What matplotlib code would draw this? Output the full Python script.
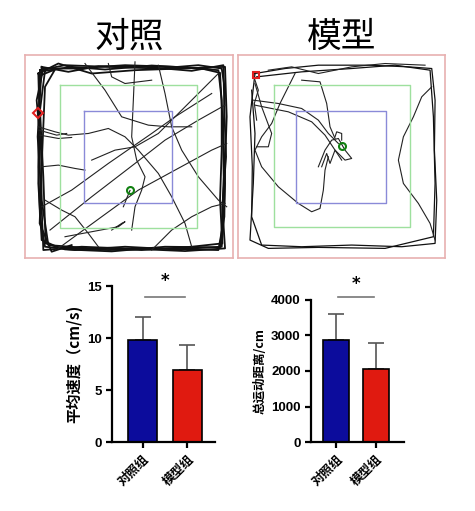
import numpy as np
import matplotlib
matplotlib.use('Agg')
import matplotlib.pyplot as plt

plt.rcParams['font.family'] = ['Noto Sans CJK SC', 'DejaVu Sans']

# ---- bar data ----
groups = ['对照组', '模型组']
speed_mean = [9.8, 6.9]
speed_err = [2.2, 2.4]
dist_mean = [2870, 2060]
dist_err = [730, 720]
bar_colors = ['#0c0c9c', '#e01a10']

# ---- arena outlines (trace-image units) ----
ctrl_green = [105, 105, 515, 535]
ctrl_blue = [178, 183, 442, 460]
model_green = [118, 105, 525, 530]
model_blue = [183, 183, 452, 458]
ctrl_start = (38, 188)
ctrl_end = (315, 421)
model_start = (62, 75)
model_end = (322, 287)

# ---- trajectories ----
ctrl_border = [
    [(45,60),(120,45),(250,50),(400,55),(520,45),(590,55),(600,120),(595,250),(600,400),(595,520),(590,590),(450,598),(300,590),(150,600),(60,590),(45,500),(40,350),(42,200),(45,60)],
    [(55,55),(150,55),(300,45),(450,50),(580,60),(590,150),(590,300),(585,450),(592,580),(500,590),(350,600),(200,595),(70,585),(50,450),(48,300),(35,150),(55,55)],
    [(40,70),(100,40),(200,70),(330,60),(470,55),(600,50),(605,200),(600,350),(598,500),(580,600),(400,595),(250,600),(100,592),(50,570),(40,400),(45,250),(40,70)],
    [(50,50),(130,65),(220,48),(360,50),(500,62),(595,45),(598,180),(603,320),(592,470),(600,595),(480,603),(320,596),(170,590),(55,600),(48,420),(38,260),(50,50)],
    [(60,62),(140,50),(240,58),(380,46),(530,55),(585,68),(593,220),(596,380),(590,540),(585,592),(420,590),(260,604),(120,598),(62,580),(55,380),(45,180),(60,62)],
    [(48,75),(90,58),(60,110),(52,300),(44,520),(80,605),(140,585)],
]
ctrl_paths = [
    [(75,540),(200,440),(330,340),(420,270),(520,210),(600,165)],
    [(100,595),(230,500),(340,420),(450,360),(560,300),(605,280)],
    [(50,470),(140,420),(250,340),(380,250),(450,200),(560,130)],
    [(180,40),(240,120),(290,200),(370,225),(430,230),(500,230)],
    [(330,35),(325,150),(320,260),(335,330),(360,380),(350,420),(330,470),(320,540)],
    [(400,45),(420,130),(440,230),(470,300),(520,380),(580,450),(605,470)],
    [(580,70),(520,130),(450,200),(400,250),(330,290),(270,300),(200,330)],
    [(40,230),(90,245),(130,255),(190,250),(250,235),(300,260),(340,300),(400,370),(440,440),(480,520),(500,590)],
    [(45,255),(100,265),(140,262)],
    [(42,240),(95,255),(125,250)],
    [(50,350),(100,345),(150,355),(180,360)],
    [(380,600),(440,540),(500,500),(560,470),(600,460)],
    [(60,450),(110,480),(150,500),(190,550),(220,590)],
    [(120,560),(200,545),(280,530),(300,515),(290,520),(260,540)],
    [(250,40),(260,80),(300,100),(380,90)],
    [(315,421),(305,445),(295,470)],
]

model_border = [
    [(60,70),(150,55),(250,45),(400,45),(520,50),(590,55),(600,150),(598,300),(605,450),(600,580),(500,590),(350,585),(200,590),(80,585),(50,500),(52,350),(45,200),(60,70)],
    [(65,80),(200,65),(350,55),(480,45),(585,60),(595,200),(600,400),(595,560),(450,595),(250,592),(100,595),(45,570),(55,400),(60,250),(50,120)],
]
model_paths = [
    [(100,60),(170,50),(250,70),(350,50),(450,40),(570,45)],
    [(590,110),(560,140),(535,200),(505,260),(490,330),(505,400),(550,460),(585,520),(600,570)],
    [(55,150),(130,160),(200,175),(250,210),(280,250),(310,280)],
    [(60,165),(160,185),(230,215),(270,255),(300,300),(320,330)],
    [(180,70),(160,110),(135,160),(110,220),(80,260),(60,300),(80,350),(130,410),(190,460),(230,485),(255,475),(265,420),(270,360),(280,320)],
    [(200,90),(255,95),(275,160),(285,230),(300,265)],
    [(60,100),(80,170),(110,250),(100,290),(65,290)],
    [(250,350),(270,300),(290,270),(310,265),(330,300),(350,325),(330,330),(300,300),(285,340),(275,310),(260,350)],
    [(300,260),(305,245),(320,250),(320,270)],
    [(55,75),(70,120),(58,160),(65,210)],
]


def draw_track(ax, title, border, paths, green, blue, start, end, start_marker, xlim, border_lw):
    for p in border:
        p = np.array(p)
        ax.plot(p[:, 0], p[:, 1], color='#111111', lw=border_lw, solid_joinstyle='round')
    for p in paths:
        p = np.array(p)
        ax.plot(p[:, 0], p[:, 1], color='#222222', lw=0.8, solid_joinstyle='round')
    gx0, gy0, gx1, gy1 = green
    ax.plot([gx0, gx1, gx1, gx0, gx0], [gy0, gy0, gy1, gy1, gy0], color='#9ee09e', lw=1.0)
    bx0, by0, bx1, by1 = blue
    ax.plot([bx0, bx1, bx1, bx0, bx0], [by0, by0, by1, by1, by0], color='#8a8ad8', lw=1.0)
    ax.plot(*start, marker=start_marker, ms=5, mfc='none', mec='#e02020', mew=1.5)
    ax.plot(*end, marker='o', ms=5, mfc='none', mec='#108010', mew=1.5)
    ax.set_xlim(*xlim)
    ax.set_ylim(624, 15)
    ax.set_xticks([])
    ax.set_yticks([])
    for s in ax.spines.values():
        s.set_color('#e8b0b0')
        s.set_linewidth(1.2)
    ax.set_title(title, fontsize=25, pad=3)


def draw_bars(ax, means, errs, ylim, yticks, ylabel, ylabel_size, xlim, sig_y, star_y):
    x = np.arange(len(groups))
    ax.bar(x, means, width=0.65, color=bar_colors, edgecolor='black', linewidth=1.2, zorder=2)
    ax.errorbar(x, means, yerr=[[0, 0], errs], fmt='none', ecolor='#555555',
                elinewidth=1.2, capsize=6, capthick=1.2, zorder=1)
    ax.plot([0.05, 0.95], [sig_y, sig_y], color='#777777', lw=1.2, clip_on=False)
    ax.text(0.5, star_y, '*', ha='center', va='center', fontsize=12, fontweight='bold',
            family=['DejaVu Sans'])
    ax.set_ylim(*ylim)
    ax.set_xlim(*xlim)
    ax.set_yticks(yticks)
    ax.set_yticklabels([str(t) for t in yticks], fontsize=9.5, fontweight='bold',
                       family=['Liberation Sans'])
    ax.set_xticks(x)
    ax.set_xticklabels(groups, rotation=45, ha='right', rotation_mode='anchor',
                       fontsize=9, fontweight='bold')
    ax.set_ylabel(ylabel, fontsize=ylabel_size, fontweight='bold', labelpad=3)
    for s in ['top', 'right']:
        ax.spines[s].set_visible(False)
    for s in ['left', 'bottom']:
        ax.spines[s].set_linewidth(1.6)
    ax.tick_params(width=1.6, length=4)


fig = plt.figure(figsize=(4.75, 5.11), dpi=100)

ax1 = fig.add_axes([0.0526, 0.495, 0.438, 0.397])
draw_track(ax1, '对照', ctrl_border, ctrl_paths, ctrl_green, ctrl_blue, ctrl_start, ctrl_end, 'D',
           (0, 624), 1.3)
ax2 = fig.add_axes([0.501, 0.495, 0.436, 0.397])
draw_track(ax2, '模型', model_border, model_paths, model_green, model_blue, model_start, model_end, 's',
           (9, 630), 0.9)

ax3 = fig.add_axes([0.2358, 0.135, 0.2168, 0.305])
draw_bars(ax3, speed_mean, speed_err, (0, 15), [0, 5, 10, 15], '平均速度（cm/s)', 11,
          (-0.678, 1.611), 14.0, 15.5)
ax4 = fig.add_axes([0.6547, 0.135, 0.1958, 0.278])
draw_bars(ax4, dist_mean, dist_err, (0, 4000), [0, 1000, 2000, 3000, 4000], '总运动距离/cm', 9,
          (-0.625, 1.7), 4085, 4450)

fig.savefig('out.png', dpi=100, facecolor='white')
